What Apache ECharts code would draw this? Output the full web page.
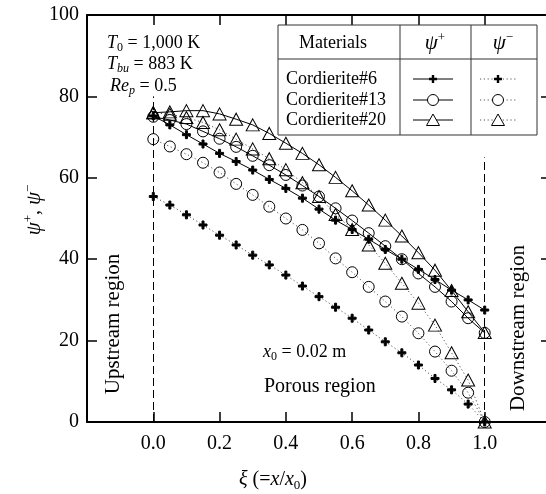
<!DOCTYPE html>
<html>
<head>
<meta charset="utf-8">
<script src="https://cdn.jsdelivr.net/npm/echarts@6/dist/echarts.min.js"></script>
<style>
  html, body { margin: 0; padding: 0; background: #fff; }
  #main { width: 546px; height: 494px; }
</style>
</head>
<body>
<div id="main"></div>
<script>
// dimensionless position xi = x/x0
var xi = [0, 0.05, 0.1, 0.15, 0.2, 0.25, 0.3, 0.35, 0.4, 0.45, 0.5,
          0.55, 0.6, 0.65, 0.7, 0.75, 0.8, 0.85, 0.9, 0.95, 1.0];

// psi+ (solid lines)
var psiPlus6  = [75.2, 73.0, 70.6, 68.3, 66.0, 64.0, 61.9, 59.6, 57.4, 55.0, 52.3,
                 49.6, 47.3, 44.9, 42.4, 40.0, 37.5, 35.0, 32.4, 30.0, 27.5];
var psiPlus13 = [75.0, 74.2, 73.2, 71.4, 69.6, 67.6, 65.4, 63.1, 60.7, 58.1, 55.4,
                 52.5, 49.5, 46.4, 43.2, 40.0, 36.5, 33.2, 29.6, 25.5, 21.9];
var psiPlus20 = [76.0, 76.2, 76.5, 76.5, 75.7, 74.4, 73.0, 70.9, 68.5, 66.0, 63.2,
                 60.1, 56.8, 53.3, 49.6, 45.7, 41.6, 37.3, 32.3, 27.1, 22.0];

// psi- (dotted lines)
var psiMinus6  = [55.4, 53.3, 50.9, 48.4, 45.9, 43.5, 41.0, 38.6, 36.1, 33.4, 30.8,
                  28.2, 25.5, 22.6, 19.7, 17.0, 14.0, 10.7, 7.9, 4.4, 0];
var psiMinus13 = [69.5, 67.7, 65.8, 63.7, 61.3, 58.5, 55.8, 52.9, 50.0, 47.2, 43.9,
                  40.2, 36.8, 33.2, 29.6, 25.9, 21.8, 17.3, 12.6, 7.2, 0];
var psiMinus20 = [76.0, 75.6, 74.8, 73.6, 71.8, 69.5, 67.1, 64.7, 62.0, 58.8, 55.4,
                  51.0, 47.3, 43.5, 39.0, 34.1, 29.2, 23.8, 17.0, 10.3, 0];

// region boundaries (xi) and the height the dashed lines reach
var boundaryXi = [0, 1.0];
var boundaryTop = [80, 65];

var materials = ['Cordierite#6', 'Cordierite#13', 'Cordierite#20'];

var FONT = 'Liberation Serif';
var PLUS = 'path://M3,0H5V3H8V5H5V8H3V5H0V3H3Z';

function pairs(arr) {
    return xi.map(function (x, i) { return [x, arr[i]]; });
}

var markers = [
    { symbol: PLUS, size: 8, fill: '#000' },
    { symbol: 'circle', size: 11, fill: 'rgba(0,0,0,0)' },
    { symbol: 'triangle', size: [13, 12], fill: 'rgba(0,0,0,0)' }
];

function makeSeries(name, arr, k, dotted) {
    var m = markers[k];
    return {
        name: name,
        type: 'line',
        data: pairs(arr),
        symbol: m.symbol,
        symbolSize: m.size,
        showAllSymbol: true,
        clip: false,
        itemStyle: { color: m.fill, borderColor: '#000', borderWidth: 1 },
        lineStyle: dotted
            ? { color: '#555', width: 1, type: [1.2, 2.6] }
            : { color: '#000', width: 1 },
        z: dotted ? 3 : 4
    };
}

var series = [
    makeSeries('psi- 6', psiMinus6, 0, true),
    makeSeries('psi- 13', psiMinus13, 1, true),
    makeSeries('psi- 20', psiMinus20, 2, true),
    makeSeries('psi+ 6', psiPlus6, 0, false),
    makeSeries('psi+ 13', psiPlus13, 1, false),
    makeSeries('psi+ 20', psiPlus20, 2, false)
];

// dashed region boundaries
series[0].markLine = {
    silent: true,
    symbol: 'none',
    label: { show: false },
    lineStyle: { color: '#000', width: 1, type: [8, 4] },
    data: boundaryXi.map(function (b, i) {
        return [{ coord: [b, 0] }, { coord: [b, boundaryTop[i]] }];
    })
};

var rich = {
    n:  { fontFamily: FONT, fontSize: 18, lineHeight: 22, color: '#000' },
    i:  { fontFamily: FONT, fontSize: 18, lineHeight: 22, fontStyle: 'italic', color: '#000' },
    s:  { fontFamily: FONT, fontSize: 12, lineHeight: 12, verticalAlign: 'bottom', fontStyle: 'italic', color: '#000' },
    s0: { fontFamily: FONT, fontSize: 12, lineHeight: 12, verticalAlign: 'bottom', color: '#000' },
    g:  { fontFamily: FONT, fontSize: 21, lineHeight: 24, fontStyle: 'italic', color: '#000' },
    sp: { fontFamily: FONT, fontSize: 13, lineHeight: 13, verticalAlign: 'top', color: '#000' },
    big:{ fontFamily: FONT, fontSize: 20, lineHeight: 24, color: '#000' },
    bi: { fontFamily: FONT, fontSize: 20, lineHeight: 24, fontStyle: 'italic', color: '#000' },
    bs: { fontFamily: FONT, fontSize: 13, lineHeight: 13, verticalAlign: 'bottom', color: '#000' }
};

function txt(x, y, text, opt) {
    opt = opt || {};
    return {
        type: 'text', x: x, y: y, z: 20,
        rotation: opt.rot || 0,
        style: {
            text: text, rich: rich,
            fontFamily: FONT, fontSize: opt.size || 18, fill: '#000',
            align: opt.align || 'left', verticalAlign: 'middle'
        }
    };
}

// legend table pieces
var box = { x: 278, y: 25, w: 259, h: 110, head: 59, c1: 400, c2: 471 };
var rowY = [79, 100, 120];
var legendEls = [
    { type: 'rect', z: 15, shape: { x: box.x, y: box.y, width: box.w, height: box.h },
      style: { fill: '#fff', stroke: '#333', lineWidth: 1 } },
    { type: 'line', z: 16, shape: { x1: box.x, y1: box.head, x2: box.x + box.w, y2: box.head },
      style: { stroke: '#333', lineWidth: 1 } },
    { type: 'line', z: 16, shape: { x1: box.c1, y1: box.y, x2: box.c1, y2: box.y + box.h },
      style: { stroke: '#333', lineWidth: 1 } },
    { type: 'line', z: 16, shape: { x1: box.c2, y1: box.y, x2: box.c2, y2: box.y + box.h },
      style: { stroke: '#333', lineWidth: 1 } },
    txt(333, 43, 'Materials', { align: 'center' }),
    txt(435, 43, '{g|ψ}{sp|+}', { align: 'center' }),
    txt(503, 43, '{g|ψ}{sp|−}', { align: 'center' })
];

function legendGlyph(k, cx, cy) {
    if (k === 0) {
        var a = 4, t = 1.2;
        return { type: 'polygon', z: 17, shape: { points: [
                    [cx - t, cy - a], [cx + t, cy - a], [cx + t, cy - t], [cx + a, cy - t],
                    [cx + a, cy + t], [cx + t, cy + t], [cx + t, cy + a], [cx - t, cy + a],
                    [cx - t, cy + t], [cx - a, cy + t], [cx - a, cy - t], [cx - t, cy - t]] },
                 style: { fill: '#000' } };
    }
    if (k === 1) {
        return { type: 'circle', z: 17, shape: { cx: cx, cy: cy, r: 5.5 },
                 style: { fill: '#fff', stroke: '#000', lineWidth: 1 } };
    }
    return { type: 'polygon', z: 17, shape: { points: [[cx, cy - 6], [cx + 6.5, cy + 5.5], [cx - 6.5, cy + 5.5]] },
             style: { fill: '#fff', stroke: '#000', lineWidth: 1 } };
}

materials.forEach(function (m, k) {
    var y = rowY[k];
    legendEls.push(txt(286, y, m));
    legendEls.push({ type: 'line', z: 16, shape: { x1: 413, y1: y, x2: 453, y2: y },
                     style: { stroke: '#000', lineWidth: 1 } });
    legendEls.push(legendGlyph(k, 433, y));
    legendEls.push({ type: 'line', z: 16, shape: { x1: 480, y1: y, x2: 517, y2: y },
                     style: { stroke: '#555', lineWidth: 1, lineDash: [1.2, 2.6] } });
    legendEls.push(legendGlyph(k, 498, y));
});

var annotations = [
    txt(107, 43, '{i|T}{s0|0}{n| = 1,000 K}'),
    txt(107, 64, '{i|T}{s|bu}{n| = 883 K}'),
    txt(110, 86, '{i|Re}{s|p}{n| = 0.5}'),
    txt(263, 352, '{i|x}{s0|0}{n| = 0.02 m}'),
    txt(264, 387, 'Porous region', { size: 20 }),
    txt(113, 324, 'Upstream region', { size: 21, align: 'center', rot: Math.PI / 2 }),
    txt(518, 328, 'Downstream region', { size: 21, align: 'center', rot: Math.PI / 2 }),
    txt(34, 210, '{g|ψ}{sp|+}{big|, }{g|ψ}{sp|−}', { align: 'center', rot: Math.PI / 2 }),
    txt(273, 480, '{bi|ξ}{big| (=}{bi|x}{big|/}{bi|x}{bs|0}{big|)}', { align: 'center' })
];

var axisCommon = {
    axisLine: { show: true, onZero: false, lineStyle: { color: '#000', width: 2 } },
    axisTick: { show: true, inside: true, length: 10, lineStyle: { color: '#000', width: 1.5 } },
    splitLine: { show: false }
};

var myChart = echarts.init(document.getElementById('main'), null, { renderer: 'canvas' });

myChart.setOption({
    backgroundColor: '#fff',
    animation: false,
    grid: { left: 87, top: 15, width: 464, height: 407, containLabel: false, outerBoundsMode: 'none' },
    xAxis: [
        Object.assign({
            type: 'value', min: -0.2, max: 1.2, interval: 0.2,
            axisLabel: {
                margin: 12, color: '#000', fontFamily: FONT, fontSize: 20,
                formatter: function (v) {
                    if (v < -0.01 || v > 1.01) return '';
                    return v.toFixed(1);
                }
            }
        }, axisCommon),
        Object.assign({
            type: 'value', position: 'top', min: -0.2, max: 1.2, interval: 0.2,
            axisLabel: { show: false }
        }, axisCommon)
    ],
    yAxis: [
        Object.assign({
            type: 'value', min: 0, max: 100, interval: 20,
            axisLabel: { margin: 8, color: '#000', fontFamily: FONT, fontSize: 20 }
        }, axisCommon),
        Object.assign({
            type: 'value', position: 'right', min: 0, max: 100, interval: 20,
            axisLabel: { show: false }
        }, axisCommon)
    ],
    series: series,
    graphic: legendEls.concat(annotations)
});

window.onresize = function () {
    myChart.resize();
};
</script>
</body>
</html>
